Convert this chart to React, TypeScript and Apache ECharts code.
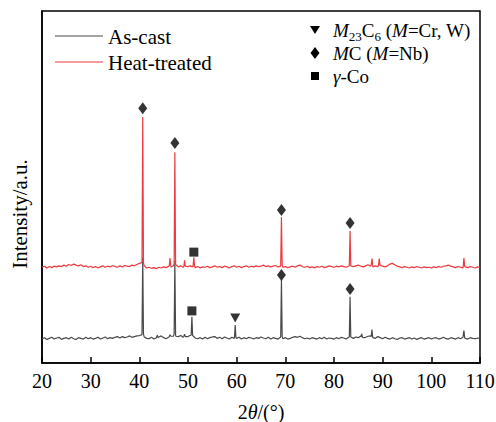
import React, { useEffect, useRef } from "react";
import * as echarts from "echarts";

// ---- data (intensity in arbitrary units; heat-treated pattern is offset upward) ----
const X_START = 20;
const X_STEP = 0.5;

const asCastBaseline = [
  6.8, 7.2, 6.7, 7.0, 7.3, 6.8, 7.1, 7.3, 6.7, 7.0, 7.2, 6.8, 7.3, 6.9, 6.7, 7.2, 7.0, 6.8, 7.3, 6.9,
  7.2, 6.8, 7.0, 7.3, 6.8, 7.1, 7.4, 6.9, 7.2, 7.0, 7.3, 7.5, 7.1, 7.5, 7.2, 7.4, 7.7, 7.3, 7.5, 7.7,
  7.8, 8.0, 7.4, 7.0, 6.9, 7.3, 6.8, 7.2, 7.4, 7.7, 7.2, 6.9, 7.3, 7.5, 7.6, 7.6, 7.5, 7.8, 7.3, 7.6,
  7.5, 7.9, 7.7, 7.1, 6.9, 7.2, 6.8, 7.3, 6.9, 7.2, 7.4, 7.5, 7.0, 7.3, 6.9, 7.4, 7.1, 6.8, 7.3, 7.0,
  7.0, 7.3, 6.8, 7.2, 6.9, 7.3, 7.1, 6.8, 7.2, 7.0, 7.4, 7.1, 6.9, 7.3, 6.8, 7.2, 7.0, 6.8, 7.3, 6.9,
  7.2, 6.8, 7.0, 7.3, 7.5, 7.3, 7.6, 7.2, 6.9, 7.1, 6.8, 7.2, 7.0, 6.8, 7.2, 6.9, 7.3, 6.8, 7.1, 7.0,
  6.8, 7.2, 6.9, 7.3, 7.1, 6.8, 7.3, 7.5, 7.0, 7.4, 7.2, 7.7, 7.2, 7.3, 7.6, 7.7, 7.2, 7.0, 7.5, 7.2,
  6.9, 7.3, 7.0, 6.8, 7.2, 6.9, 6.7, 7.1, 7.2, 6.8, 7.0, 7.2, 6.8, 7.1, 6.7, 7.0, 7.2, 6.8, 7.0, 7.2,
  6.8, 7.1, 7.2, 6.8, 7.0, 7.3, 6.9, 6.8, 7.2, 7.0, 6.8, 7.2, 6.9, 7.3, 7.0, 6.8, 7.2, 7.0, 6.9, 7.1,
  7.0,
];

const asCastPeaks = [
  [40.55, 8.4], [40.7, 30], [40.85, 8.2],
  [43.55, 7.3], [43.7, 7.9], [43.85, 7.2],
  [46.15, 7.5], [46.3, 8.0], [46.45, 7.6],
  [47.15, 8.2], [47.3, 29], [47.45, 8.0],
  [49.15, 7.6], [49.3, 8.2], [49.45, 7.5],
  [50.65, 7.9], [50.8, 13.1], [50.95, 7.8],
  [59.55, 7.3], [59.7, 10.8], [59.85, 7.2],
  [69.05, 7.6], [69.2, 23.6], [69.35, 7.5],
  [83.15, 7.5], [83.3, 18.8], [83.45, 7.4],
  [85.55, 7.4], [85.7, 8.3], [85.85, 7.3],
  [87.65, 7.5], [87.8, 9.5], [87.95, 7.4],
  [106.55, 7.2], [106.7, 9.2], [106.85, 7.1],
];

const heatTreatedBaseline = [
  27.2, 27.5, 27.0, 27.4, 27.1, 27.5, 27.3, 27.6, 27.4, 27.8, 27.5, 28.0, 27.7, 28.1, 27.8, 27.6, 27.9, 27.4, 27.6, 27.2,
  27.5, 27.1, 27.4, 27.0, 27.3, 27.6, 27.2, 27.5, 27.3, 27.7, 27.4, 27.2, 27.6, 27.3, 27.7, 27.5, 27.4, 27.8, 27.6, 28.0,
  28.3, 28.5, 27.6, 27.0, 27.2, 26.9, 27.1, 26.8, 27.2, 27.0, 27.3, 27.1, 27.5, 27.2, 27.6, 27.9, 27.3, 27.6, 27.2, 27.5,
  27.4, 27.6, 27.3, 27.1, 27.4, 27.0, 27.3, 27.2, 27.5, 27.1, 27.3, 27.6, 27.2, 27.4, 27.1, 27.5, 27.3, 27.0, 27.4, 27.6,
  27.2, 27.5, 27.1, 27.4, 27.6, 27.2, 27.5, 27.3, 27.6, 27.4, 27.5, 27.8, 27.4, 27.6, 27.3, 27.5, 27.7, 27.3, 27.5, 27.2,
  27.4, 27.1, 27.3, 27.5, 27.2, 27.6, 27.8, 27.4, 27.2, 27.5, 27.1, 27.3, 27.0, 27.4, 27.2, 27.5, 27.1, 27.3, 27.6, 27.4,
  27.2, 27.5, 27.3, 27.6, 27.4, 27.2, 27.5, 27.7, 27.4, 27.6, 27.8, 27.5, 27.3, 27.6, 27.9, 27.5, 27.3, 27.6, 27.4, 27.7,
  27.5, 27.3, 27.6, 28.1, 28.3, 27.9, 27.5, 27.3, 27.1, 27.4, 27.2, 27.0, 27.3, 27.1, 27.4, 27.2, 27.0, 27.3, 27.1, 27.2,
  27.0, 27.3, 27.1, 27.4, 27.2, 27.5, 27.6, 27.8, 27.5, 27.3, 27.1, 27.4, 27.2, 27.0, 27.3, 27.1, 27.4, 27.2, 27.0, 27.3,
  27.2,
];

const heatTreatedPeaks = [
  [40.55, 28.9], [40.7, 69.9], [40.85, 28.6],
  [46.15, 27.6], [46.3, 29.8], [46.45, 27.7],
  [47.15, 28.3], [47.3, 59.9], [47.45, 28.0],
  [49.15, 27.4], [49.3, 29.2], [49.45, 27.5],
  [51.05, 27.6], [51.2, 30.0], [51.35, 27.5],
  [69.05, 27.8], [69.2, 41.5], [69.35, 27.7],
  [83.15, 27.7], [83.3, 37.5], [83.45, 27.6],
  [87.65, 27.8], [87.8, 29.7], [87.95, 27.9],
  [89.15, 27.7], [89.3, 29.7], [89.45, 27.8],
  [106.55, 27.5], [106.7, 29.8], [106.85, 27.4],
];

// phase markers
const mcMarkers = [[40.7, 72.4], [47.3, 62.5], [69.2, 43.5], [83.3, 39.8], [69.2, 25.0], [83.3, 21.0]];
const gammaCoMarkers = [[51.2, 31.5], [50.8, 14.8]];
const m23c6Markers = [[59.7, 12.8]];

const X_MIN = 20;
const X_MAX = 110;
const X_INTERVAL = 10;

const SERIES_NAMES = ["As-cast", "Heat-treated"];

function buildSeries(baseline: number[], peaks: number[][]) {
  const pts = baseline.map((v, i) => [X_START + i * X_STEP, v]);
  return pts.concat(peaks).sort((a, b) => a[0] - b[0]);
}

const FONT = "Liberation Serif";
const GRAY = "#4a4a4a";
const RED = "#ec3a3e";

export default function App() {
  const ref = useRef<HTMLDivElement>(null);
  useEffect(() => {
    document.body.style.margin = "0";
    if (!ref.current) return;
    const chart = echarts.init(ref.current, undefined, { renderer: "svg" });
    const txt = { fontFamily: FONT, fontSize: 20, color: "#000" };
    const big = { fontFamily: FONT, fontSize: 21, color: "#000" };
    const leg = { fontFamily: FONT, fontSize: 19, color: "#000" };
    const rich = {
      n: { ...leg, lineHeight: 20, verticalAlign: "middle" },
      i: { ...leg, fontStyle: "italic", lineHeight: 20, verticalAlign: "middle" },
      s: { fontFamily: FONT, fontSize: 13, color: "#000", lineHeight: 26, verticalAlign: "bottom" },
    };
    const nameRich = {
      n: { ...txt, lineHeight: 22 },
      i: { ...txt, fontStyle: "italic", lineHeight: 22 },
    };
    chart.setOption({
      animation: false,
      grid: {
        left: 42, right: 16, top: 11, bottom: 59,
        containLabel: false, outerBoundsMode: "none",
        show: true, borderColor: "#000", borderWidth: 1.5, backgroundColor: "transparent",
      },
      xAxis: {
        type: "value",
        min: X_MIN,
        max: X_MAX,
        interval: X_INTERVAL,
        axisLine: { show: true, lineStyle: { color: "#000", width: 1.5 } },
        axisTick: { show: true, inside: true, length: 6, lineStyle: { color: "#000", width: 1.5 } },
        axisLabel: { ...txt, margin: 8 },
        splitLine: { show: false },
        name: "{n|2}{i|θ}{n|/(°)}",
        nameLocation: "middle",
        nameGap: 38,
        nameTextStyle: { ...txt, rich: nameRich },
      },
      yAxis: {
        type: "value",
        min: 0,
        max: 100,
        axisLine: { show: true, lineStyle: { color: "#000", width: 1.5 } },
        axisTick: { show: false },
        axisLabel: { show: false },
        splitLine: { show: false },
      },
      series: [
        {
          name: SERIES_NAMES[0],
          type: "line",
          data: buildSeries(asCastBaseline, asCastPeaks),
          showSymbol: false,
          lineStyle: { color: GRAY, width: 1.2 },
          itemStyle: { color: GRAY },
          z: 2,
        },
        {
          name: SERIES_NAMES[1],
          type: "line",
          data: buildSeries(heatTreatedBaseline, heatTreatedPeaks),
          showSymbol: false,
          lineStyle: { color: RED, width: 1.2 },
          itemStyle: { color: RED },
          z: 3,
        },
        { type: "scatter", data: mcMarkers, symbol: "diamond", symbolSize: [9, 12], itemStyle: { color: "#000" }, z: 5 },
        { type: "scatter", data: gammaCoMarkers, symbol: "rect", symbolSize: 9, itemStyle: { color: "#000" }, z: 5 },
        { type: "scatter", data: m23c6Markers, symbol: "triangle", symbolRotate: 180, symbolSize: [10, 9], itemStyle: { color: "#000" }, z: 5 },
      ],
      graphic: [
        { type: "line", shape: { x1: 55, y1: 36, x2: 103, y2: 36 }, style: { stroke: GRAY, lineWidth: 1.2 } },
        { type: "text", x: 108, y: 37, style: { text: SERIES_NAMES[0], ...big, fill: "#000", verticalAlign: "middle" } },
        { type: "line", shape: { x1: 55, y1: 62, x2: 103, y2: 62 }, style: { stroke: RED, lineWidth: 1.2 } },
        { type: "text", x: 108, y: 63, style: { text: SERIES_NAMES[1], ...big, fill: "#000", verticalAlign: "middle" } },

        { type: "polygon", shape: { points: [[310, 26], [320, 26], [315, 34]] }, style: { fill: "#000" } },
        { type: "polygon", shape: { points: [[315, 47], [319.5, 53], [315, 59], [310.5, 53]] }, style: { fill: "#000" } },
        { type: "rect", shape: { x: 311, y: 72, width: 8, height: 8 }, style: { fill: "#000" } },
        {
          type: "text", x: 333, y: 30,
          style: { text: "{i|M}{s|23}{n|C}{s|6}{n| (}{i|M}{n|=Cr, W)}", rich, verticalAlign: "middle", ...leg },
        },
        {
          type: "text", x: 333, y: 53,
          style: { text: "{i|M}{n|C (}{i|M}{n|=Nb)}", rich, verticalAlign: "middle", ...leg },
        },
        {
          type: "text", x: 333, y: 76,
          style: { text: "{i|γ}{n|-Co}", rich, verticalAlign: "middle", ...leg },
        },
        {
          type: "text", x: 20, y: 214, rotation: Math.PI / 2,
          style: { text: "Intensity/a.u.", ...big, fill: "#000", align: "center", verticalAlign: "middle" },
        },
      ],
    });
    return () => chart.dispose();
  }, []);
  return <div ref={ref} style={{ width: 496, height: 422 }} />;
}
